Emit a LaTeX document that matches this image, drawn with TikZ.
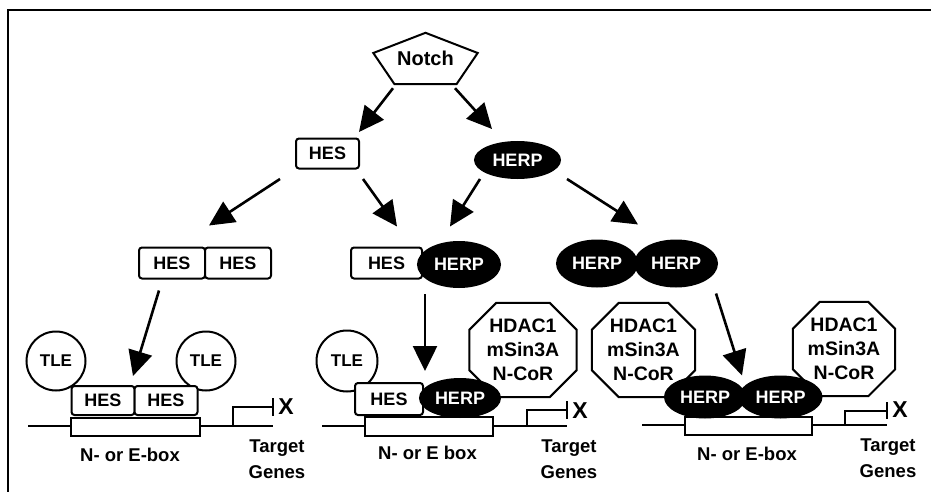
\documentclass[tikz,border=0pt]{standalone}
\usepackage{fontspec}
\setmainfont{Liberation Sans}
\usetikzlibrary{arrows.meta,shapes.misc,shapes.geometric,calc}
\begin{document}
\begin{tikzpicture}[x=1pt,y=-1pt,
  lw/.style={line width=2pt},
  arr/.style={line width=2.6pt, -{Triangle[length=25pt,width=24pt]}},
  hesbox/.style={draw, lw, fill=white, rounded corners=3pt, minimum height=31pt, inner sep=0pt, font=\fontsize{18}{18}\selectfont\bfseries},
  herp/.style={ellipse, fill=black, draw=black, lw, inner sep=0pt, text=white, font=\fontsize{18}{18}\selectfont\bfseries},
  tle/.style={circle, draw, lw, fill=white, minimum size=59pt, inner sep=0pt, font=\fontsize{17}{17}\selectfont\bfseries},
  octframe/.style={minimum height=94pt, inner sep=0pt},
  octtext/.style={inner sep=0pt, align=center, font=\fontsize{19.5}{24}\selectfont\bfseries},
  octpath/.style={draw, lw, fill=white},
  ebox/.style={draw, lw, fill=white, inner sep=0pt},
  dna/.style={line width=2.2pt},
  lbl/.style={font=\fontsize{18.5}{26}\selectfont\bfseries, inner sep=0pt, anchor=base},
  xmark/.style={font=\fontsize{23}{23}\selectfont\bfseries, inner sep=0pt},
]
\newcommand{\octdraw}[1]{%
  \path[octpath] ([xshift=27pt]#1.north west) -- ([xshift=-27pt]#1.north east)
   -- ([yshift=-27pt]#1.north east) -- ([yshift=27pt]#1.south east)
   -- ([xshift=-27pt]#1.south east) -- ([xshift=27pt]#1.south west)
   -- ([yshift=27pt]#1.south west) -- ([yshift=-27pt]#1.north west) -- cycle;}
\useasboundingbox (0,0) rectangle (931,492);
% frame
\draw[lw] (8,492) -- (8,10) -- (931,10);

% Notch
\node[minimum width=104pt, minimum height=51pt, inner sep=0pt, font=\fontsize{20}{20}\selectfont\bfseries] (notch) at (425.5,58.5) {Notch};
\draw[lw] (notch.north) -- ([yshift=5.5pt]notch.west) -- ([xshift=-31pt]notch.south) -- ([xshift=31pt]notch.south) -- ([yshift=5.5pt]notch.east) -- cycle;

% level 2
\node[hesbox, minimum width=63pt, minimum height=30pt] (hes) at (327.5,153.5) {HES};
\node[herp, minimum width=85pt, minimum height=36pt] (herp) at (517.5,160) {HERP};

\draw[arr] ($(notch.south)+(-32.5,4)$) -- ($(hes.north east)+(-1,-5.5)$);
\draw[arr] ($(notch.south)+(29.5,4)$) -- ($(herp.north)+(-25.5,-12)$);

% level 3
\node[hesbox, minimum width=66pt] (hh1) at (172,263) {HES};
\node[hesbox, minimum width=66pt] (hh2) at (238,263) {HES};
\node[hesbox, minimum width=71pt] (hh3) at (386.5,263) {HES};
\node[herp, minimum width=82pt, minimum height=45pt] (hp) at (459,264.5) {HERP};
\node[herp, minimum width=80pt, minimum height=46pt] (pp1) at (597,263.5) {HERP};
\node[herp, minimum width=82pt, minimum height=46pt] (pp2) at (676,263.5) {HERP};

\draw[arr] ($(hes.south)+(-47.5,9.5)$) -- ($(hh1.north)+(37,-21)$);
\draw[arr] ($(hes.south)+(35.5,9.5)$) -- ($(hh3.north)+(10.5,-20)$);
\draw[arr] ($(herp.south)+(-37.5,0)$) -- ($(hp.north)+(-9,-14.5)$);
\draw[arr] ($(herp.south)+(49.5,0)$) -- ($(pp1.north)+(41,-15)$);

% ---------- section 1 ----------
\node[tle] (tle1) at (56,361) {TLE};
\node[tle] (tle2) at (206,361) {TLE};
\draw[dna] (28,426) -- (273,426);
\node[ebox, minimum width=129pt, minimum height=18pt] (eb1) at (135.5,426.5) {};
\node[hesbox, minimum width=63pt, minimum height=29pt] (h41) at (103,400.5) {HES};
\node[hesbox, minimum width=63pt, minimum height=29pt] (h42) at (166,400.5) {HES};
\draw[lw] (233,426) -- (233,407) -- (273,407);
\draw[lw] (273,398) -- (273,416);
\node[xmark] (x1) at (286,407) {X};
\node[lbl] (t1) at (130,461) {N- or E-box};
\node[lbl] (tg1) at (277,452) {Target};
\node[lbl] (gn1) at (277,478) {Genes};

% ---------- section 2 ----------
\node[tle, minimum size=61pt] (tle3) at (347,361) {TLE};
\node[octframe, minimum width=107pt] (o2) at (523,350) {};
\octdraw{o2}
\node[octtext] (o2t) at (o2) {HDAC1\\mSin3A\\N-CoR};
\draw[dna] (322,426) -- (567,426);
\node[ebox, minimum width=128pt, minimum height=19pt] (eb2) at (429,426.5) {};
\node[hesbox, minimum width=68pt, minimum height=32pt] (h43) at (389,399) {HES};
\node[herp, minimum width=80pt, minimum height=38pt] (h4p) at (460,398) {HERP};
\draw[lw] (527,426) -- (527,410) -- (567,410);
\draw[lw] (567,401) -- (567,419);
\node[xmark] (x2) at (580,411) {X};
\node[lbl] (t2) at (427.5,459) {N- or E box};
\node[lbl] (tg2) at (569,452) {Target};
\node[lbl] (gn2) at (569,478) {Genes};

% ---------- section 3 ----------
\node[octframe, minimum width=103pt] (o3) at (643.5,350) {};
\octdraw{o3}
\node[octtext] (o3t) at (o3) {HDAC1\\mSin3A\\N-CoR};
\node[octframe, minimum width=102pt] (o4) at (844,349) {};
\octdraw{o4}
\node[octtext] (o4t) at (o4) {HDAC1\\mSin3A\\N-CoR};
\draw[dna] (642,425) -- (887,425);
\node[ebox, minimum width=127pt, minimum height=18pt] (eb3) at (748.5,426) {};
\node[herp, minimum width=80pt, minimum height=41pt] (p41) at (705,397) {HERP};
\node[herp, minimum width=82pt, minimum height=41pt] (p42) at (780.5,397) {HERP};
\draw[lw] (845,425) -- (845,411) -- (887,411);
\draw[lw] (887,402) -- (887,419);
\node[xmark] (x3) at (900,410) {X};
\node[lbl] (t3) at (747,460) {N- or E-box};
\node[lbl] (tg3) at (888,451) {Target};
\node[lbl] (gn3) at (888,477) {Genes};

% level 3 -> level 4 arrows
\draw[arr] ($(hh1.south)+(-13,11)$) -- ($(h41.north east)+(-2.5,-9)$);
\draw[arr] ($(hp.south)+(-34,6)$) -- ($(h4p.north)+(-35,-7)$);
\draw[arr] ($(pp2.south)+(40,6)$) -- ($(p41.north)+(37,0)$);
\end{tikzpicture}
\end{document}
